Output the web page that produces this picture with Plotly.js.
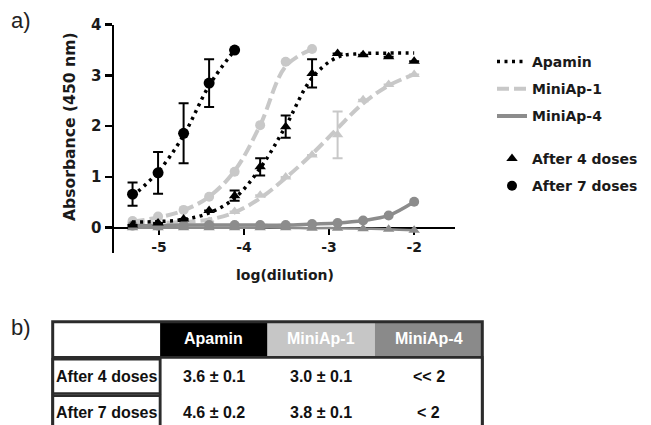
<!DOCTYPE html>
<html>
<head>
<meta charset="utf-8">
<script src="https://cdn.plot.ly/plotly-3.0.1.min.js"></script>
<style>
html,body{margin:0;padding:0;background:#fff;}
#chart{width:651px;height:425px;}
</style>
</head>
<body>
<div id="chart"></div>
<script>
// ---- data ----
const dilution = [-5.31, -5.01, -4.71, -4.41, -4.11, -3.81, -3.51, -3.20, -2.90, -2.60, -2.30, -2.00];
const dilution7Apamin = [-5.31, -5.01, -4.71, -4.41, -4.11];
const dilution7Mini1 = [-5.31, -5.01, -4.71, -4.41, -4.11, -3.81, -3.51, -3.20];

// Apamin
const apamin4 = [0.05, 0.09, 0.17, 0.34, 0.63, 1.20, 1.99, 3.04, 3.43, 3.41, 3.37, 3.28];
const apamin4Err = [0, 0, 0, 0, 0.10, 0.17, 0.22, 0.28, 0, 0, 0, 0];
const apamin4Fit = [0.11, 0.12, 0.16, 0.29, 0.58, 1.17, 2.00, 2.95, 3.36, 3.43, 3.44, 3.44];
const apamin7 = [0.66, 1.08, 1.86, 2.85, 3.50];
const apamin7Err = [0.23, 0.41, 0.59, 0.47, 0];
const apamin7Fit = [0.62, 1.10, 1.82, 2.80, 3.50];

// MiniAp-1
const mini1_4 = [0.10, 0.06, 0.05, 0.12, 0.32, 0.64, 1.00, 1.43, 1.83, 2.52, 2.82, 3.02];
const mini1_4Err = [0, 0, 0, 0, 0, 0, 0, 0, 0.46, 0, 0, 0];
const mini1_4Fit = [0.08, 0.09, 0.11, 0.16, 0.30, 0.58, 0.98, 1.45, 1.96, 2.45, 2.80, 3.02];
const mini1_7 = [0.13, 0.22, 0.35, 0.61, 1.10, 2.02, 3.27, 3.52];
const mini1_7Fit = [0.12, 0.20, 0.34, 0.61, 1.12, 2.02, 3.18, 3.52];

// MiniAp-4
const mini4_4 = [0.00, 0.00, 0.00, 0.00, 0.00, 0.00, 0.00, -0.01, -0.01, -0.02, -0.03, -0.05];
const mini4_7 = [0.04, 0.04, 0.05, 0.05, 0.05, 0.05, 0.05, 0.07, 0.09, 0.14, 0.24, 0.51];

const xTicks = [-5, -4, -3, -2];
const xTickLabels = ['-5', '-4', '-3', '-2'];
const yTicks = [0, 1, 2, 3, 4];

// table b)
const tableCols = ['Apamin', 'MiniAp-1', 'MiniAp-4'];
const tableRows = ['After 4 doses', 'After 7 doses'];
const tableValues = [
  ['3.6 ± 0.1', '3.0 ± 0.1', '<< 2'],
  ['4.6 ± 0.2', '3.8 ± 0.1', '< 2']
];

// ---- styles ----
const cBlack = '#000000', cLight = '#c8c8c8', cGray = '#8c8c8c';
const DOT = '3px,4.5px', DASH = '12px,5px';
const boldFont = {family: 'DejaVu Sans', weight: 'bold', color: '#1a1a1a'};
const tableFont = {family: 'Liberation Sans', weight: 'bold', size: 16};

function fit(x, y, color, dash, width) {
  return {x: x, y: y, mode: 'lines', type: 'scatter', showlegend: false, hoverinfo: 'skip',
    line: {color: color, dash: dash, width: width, shape: 'spline'}};
}
function pts(x, y, err, color, symbol, size) {
  const t = {x: x, y: y, mode: 'markers', type: 'scatter', showlegend: false,
    marker: {color: color, symbol: symbol, size: size}};
  if (err) t.error_y = {type: 'data', array: err, visible: true, color: color, thickness: 2, width: 5};
  return t;
}

const traces = [
  fit(dilution, mini1_4Fit, cLight, DASH, 4),
  pts(dilution, mini1_4, mini1_4Err, cLight, 'triangle-up', 10),
  fit(dilution7Mini1, mini1_7Fit, cLight, DASH, 4),
  pts(dilution7Mini1, mini1_7, null, cLight, 'circle', 10),
  fit(dilution, mini4_4, cGray, 'solid', 2.5),
  pts(dilution, mini4_4, null, cGray, 'triangle-up', 10),
  fit(dilution, mini4_7, cGray, 'solid', 3.5),
  pts(dilution, mini4_7, null, cGray, 'circle', 10),
  fit(dilution, apamin4Fit, cBlack, DOT, 3.5),
  pts(dilution, apamin4, apamin4Err, cBlack, 'triangle-up', 10),
  fit(dilution7Apamin, apamin7Fit, cBlack, DOT, 3.5),
  pts(dilution7Apamin, apamin7, apamin7Err, cBlack, 'circle', 11),
  // legend entries
  {x: [null], y: [null], mode: 'lines', name: 'Apamin', legendgroup: 'a', line: {color: cBlack, dash: DOT, width: 3.5}},
  {x: [null], y: [null], mode: 'lines', name: 'MiniAp-1', legendgroup: 'b', line: {color: cLight, dash: DASH, width: 4}},
  {x: [null], y: [null], mode: 'lines', name: 'MiniAp-4', legendgroup: 'c', line: {color: cGray, width: 4}},
  {x: [null], y: [null], mode: 'markers', name: 'After 4 doses', legend: 'legend2', legendgroup: 'd', marker: {color: cBlack, symbol: 'triangle-up', size: 10}},
  {x: [null], y: [null], mode: 'markers', name: 'After 7 doses', legend: 'legend2', legendgroup: 'e', marker: {color: cBlack, symbol: 'circle', size: 10}}
];

// ---- table (drawn on its own axes x2/y2) ----
const shapes = [];
const annotations = [];
const tblLine = '#2b2b2b';
const center = {xanchor: 'center', yanchor: 'middle', showarrow: false};
tableCols.forEach((c, j) => {
  const fills = [cBlack, '#c6c6c6', '#8a8a8a'];
  shapes.push({type: 'rect', xref: 'x2', yref: 'y2', x0: j + 1, x1: j + 2, y0: 0, y1: 0.96,
    fillcolor: fills[j], line: {width: 0}, layer: 'below'});
  annotations.push(Object.assign({xref: 'x2', yref: 'y2', x: j + 1.5, y: 0.47, text: c,
    font: Object.assign({}, tableFont, {color: '#ffffff'})}, center));
});
shapes.push({type: 'line', xref: 'x2', yref: 'y2', x0: 0, x1: 4, y0: 0.975, y1: 0.975, line: {color: tblLine, width: 2.5}});
shapes.push({type: 'rect', xref: 'x2', yref: 'y2', x0: 1, x1: 4, y0: 0.975, y1: 3.6, line: {color: tblLine, width: 2.5}});
tableRows.forEach((r, i) => {
  shapes.push({type: 'rect', xref: 'x2', yref: 'y2', x0: 0, x1: 1, y0: 1 + i + 0.03, y1: 2 + i - 0.03,
    line: {color: tblLine, width: 2.5}});
  annotations.push(Object.assign({xref: 'x2', yref: 'y2', x: 0.5, y: 1.5 + i, text: r,
    font: Object.assign({}, tableFont, {color: '#111111'})}, center));
  tableValues[i].forEach((v, j) => {
    annotations.push(Object.assign({xref: 'x2', yref: 'y2', x: j + 1.5, y: 1.5 + i, text: v,
      font: Object.assign({}, tableFont, {color: '#111111'})}, center));
  });
});
shapes.push({type: 'rect', xref: 'x2', yref: 'y2', x0: 0, x1: 4, y0: 0, y1: 3.6, line: {color: tblLine, width: 3}});

// titles and panel labels
annotations.push(Object.assign({xref: 'paper', yref: 'paper', x: 284.5 / 651, y: 1 - 275 / 425, text: 'log(dilution)',
  font: Object.assign({}, boldFont, {size: 14})}, center));
annotations.push(Object.assign({xref: 'paper', yref: 'paper', x: 70.5 / 651, y: 1 - 126.5 / 425, text: 'Absorbance (450 nm)',
  textangle: -90, font: Object.assign({}, boldFont, {size: 15.6})}, center));
annotations.push(Object.assign({xref: 'paper', yref: 'paper', x: 21 / 651, y: 1 - 20 / 425, text: 'a)',
  font: {family: 'Liberation Sans', size: 22, color: '#222'}}, center));
annotations.push(Object.assign({xref: 'paper', yref: 'paper', x: 21 / 651, y: 1 - 327 / 425, text: 'b)',
  font: {family: 'Liberation Sans', size: 22, color: '#222'}}, center));

const yDom = [1 - 253 / 425, 1 - 24.7 / 425];
const yRange = [-0.5, 4];
const zeroPos = yDom[0] + (0 - yRange[0]) / (yRange[1] - yRange[0]) * (yDom[1] - yDom[0]);

const tblUnitX = 429.6 / 4, tblUnitY = 36.5;
const layout = {
  width: 651, height: 425,
  margin: {l: 0, r: 0, t: 0, b: 0},
  paper_bgcolor: '#fff', plot_bgcolor: 'rgba(0,0,0,0)',
  font: {family: 'DejaVu Sans', color: '#1a1a1a'},
  showlegend: true,
  xaxis: {
    domain: [114 / 651, 455 / 651], range: [-5.528, -1.52],
    anchor: 'free', position: zeroPos,
    tickvals: xTicks, ticktext: xTickLabels, ticks: 'outside', ticklen: 6, tickwidth: 2.5, tickcolor: '#000',
    showline: true, linecolor: '#000', linewidth: 2.5, showgrid: false, zeroline: false,
    layer: 'below traces',
    tickfont: Object.assign({}, boldFont, {size: 14}), fixedrange: true
  },
  yaxis: {
    domain: yDom, range: yRange,
    tickvals: yTicks, ticks: 'outside', ticklen: 7, tickwidth: 2.5, tickcolor: '#000',
    showline: true, linecolor: '#000', linewidth: 2.5, showgrid: false, zeroline: false,
    layer: 'below traces',
    tickfont: Object.assign({}, boldFont, {size: 15}), fixedrange: true
  },
  xaxis2: {
    domain: [(52.7 - 3) / 651, (482.3 + 3) / 651], range: [-3 / tblUnitX, 4 + 3 / tblUnitX],
    anchor: 'y2', visible: false, fixedrange: true
  },
  yaxis2: {
    domain: [0, 1 - (321.7 - 3) / 425], range: [(425 - 321.7) / tblUnitY, -3 / tblUnitY],
    anchor: 'x2', visible: false, fixedrange: true
  },
  legend: {
    x: 492 / 651, y: 1 - 46 / 425, xanchor: 'left', yanchor: 'top',
    traceorder: 'grouped', tracegroupgap: 6, bgcolor: 'rgba(0,0,0,0)',
    font: Object.assign({}, boldFont, {size: 14})
  },
  legend2: {
    x: 492 / 651, y: 1 - 143 / 425, xanchor: 'left', yanchor: 'top',
    traceorder: 'grouped', tracegroupgap: 6, bgcolor: 'rgba(0,0,0,0)',
    font: Object.assign({}, boldFont, {size: 14})
  },
  shapes: shapes,
  annotations: annotations
};

Plotly.newPlot('chart', traces, layout, {staticPlot: true, displayModeBar: false});
</script>
</body>
</html>
